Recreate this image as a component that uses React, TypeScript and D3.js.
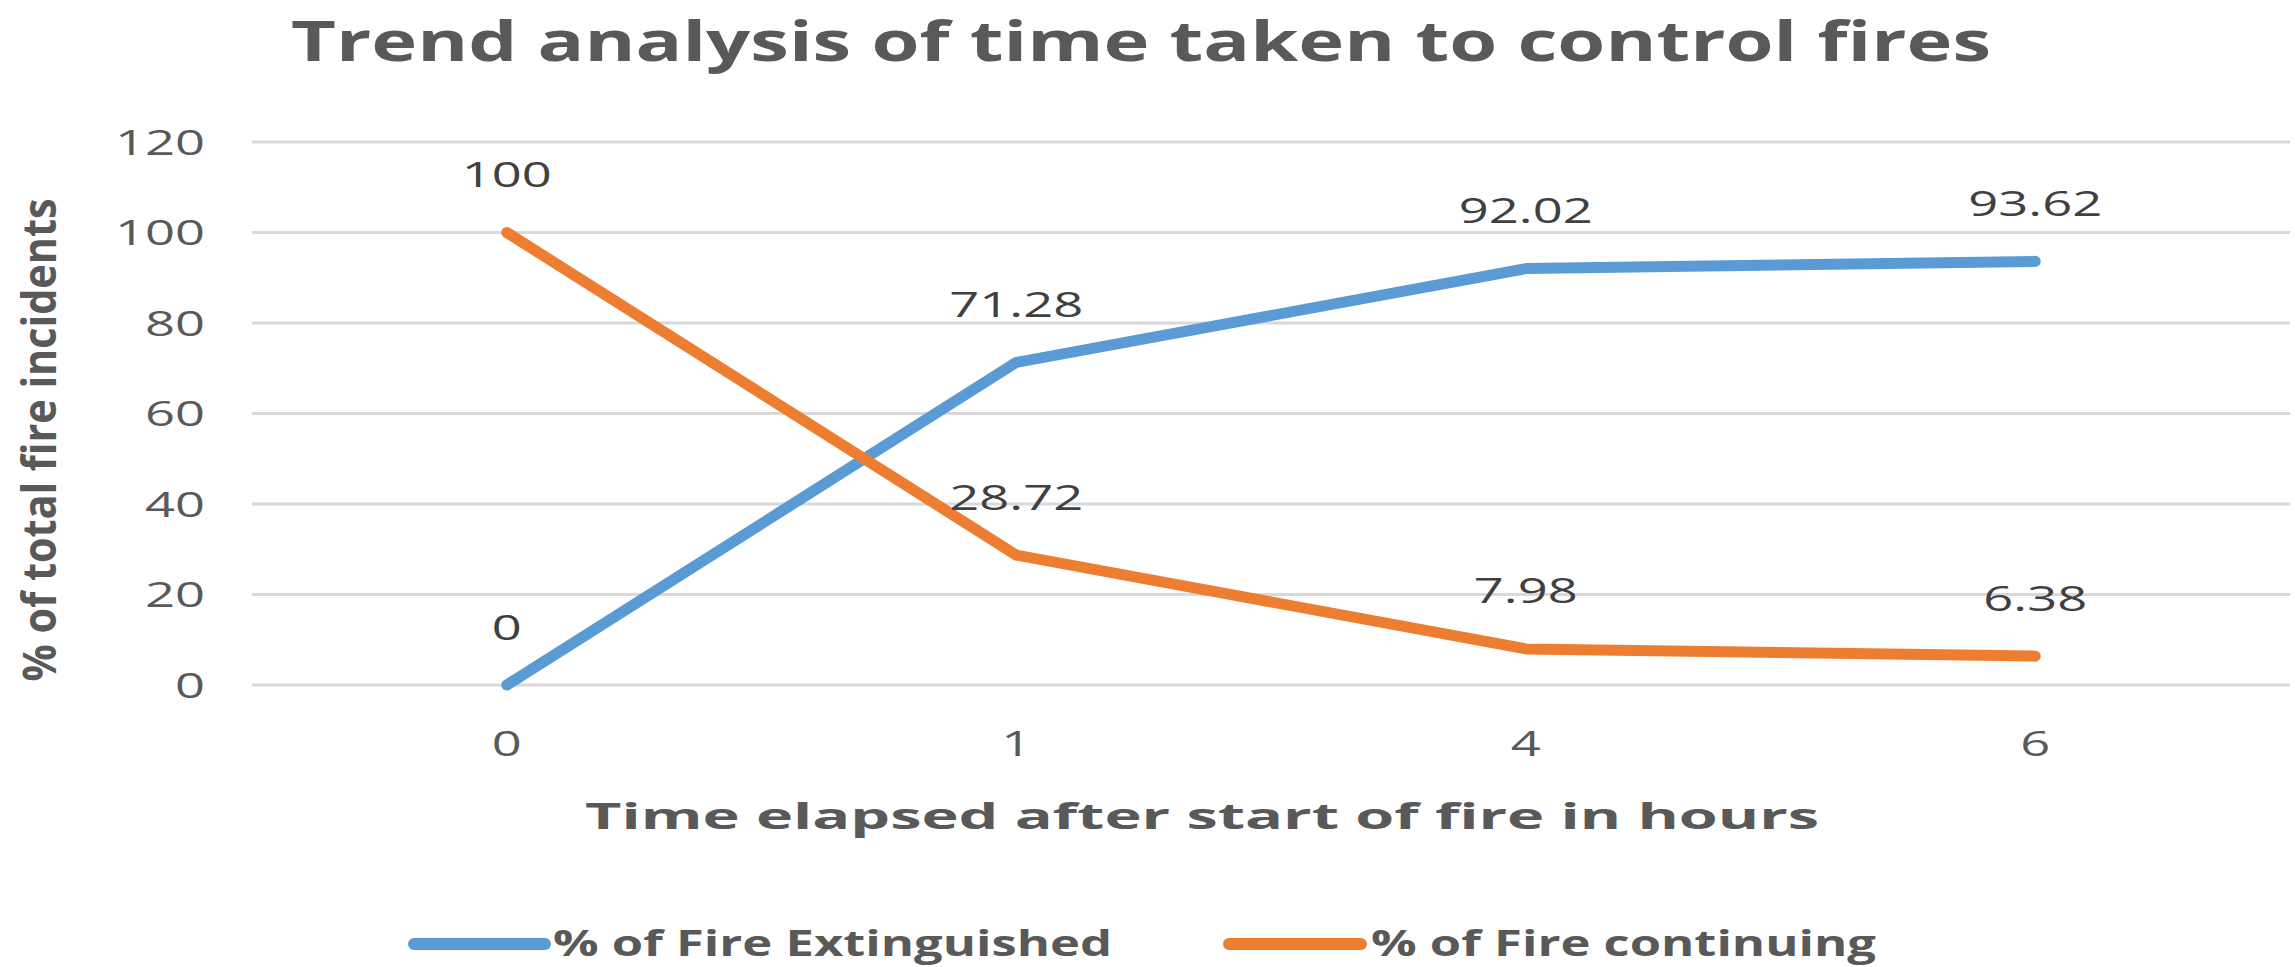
import * as d3 from "d3";
import { useEffect, useRef } from "react";

const hours = ["0", "1", "4", "6"];
const extinguished = [0, 71.28, 92.02, 93.62];
const continuing = [100, 28.72, 7.98, 6.38];
const yTicks = [0, 20, 40, 60, 80, 100, 120];
const seriesNames = ["% of Fire Extinguished", "% of Fire continuing"];

function App() {
    const ref = useRef<SVGSVGElement>(null);

    useEffect(() => {
        const svg = d3.select(ref.current);
        svg.selectAll("*").remove();

        const width = 2295;
        const height = 967;
        const sx = 1.5; // the picture is stretched sideways
        const grey = "#595959";
        const colors = ["#5B9BD5", "#ED7D31"];
        const font = "'Open Sans', sans-serif";

        const x = d3.scalePoint().domain(hours).range([252, 2290]).padding(0.5);
        const y = d3.scaleLinear().domain([0, 120]).range([685, 142]);

        svg.append("rect").attr("width", width).attr("height", height).attr("fill", "#fff");

        // title
        svg.append("text")
            .attr("x", 1141).attr("y", 61)
            .attr("text-anchor", "middle")
            .attr("font-family", font).attr("font-weight", 700)
            .attr("font-size", 55).attr("fill", grey)
            .attr("textLength", 1700).attr("lengthAdjust", "spacingAndGlyphs")
            .text("Trend analysis of time taken to control fires");

        // grid
        svg.append("g").selectAll("line")
            .data(yTicks)
            .enter()
            .append("line")
            .attr("x1", 252).attr("x2", 2290)
            .attr("y1", d => y(d)).attr("y2", d => y(d))
            .attr("stroke", "#D9D9D9").attr("stroke-width", 3);

        // y ticks
        svg.append("g").selectAll("text")
            .data(yTicks)
            .enter()
            .append("text")
            .attr("transform", d => `translate(205,${y(d)}) scale(${sx},1)`)
            .attr("text-anchor", "end").attr("dy", "0.36em")
            .attr("font-family", font).attr("font-size", 35).attr("fill", grey)
            .text(d => d);

        // x ticks
        svg.append("g").selectAll("text")
            .data(hours)
            .enter()
            .append("text")
            .attr("transform", d => `translate(${x(d)},743) scale(${sx},1)`)
            .attr("text-anchor", "middle").attr("dy", "0.36em")
            .attr("font-family", font).attr("font-size", 35).attr("fill", grey)
            .text(d => d);

        // axis titles
        svg.append("text")
            .attr("transform", "translate(56,440) rotate(-90) scale(1,1.5)")
            .attr("text-anchor", "middle")
            .attr("font-family", font).attr("font-weight", 700)
            .attr("font-size", 31).attr("fill", grey)
            .attr("textLength", 483).attr("lengthAdjust", "spacingAndGlyphs")
            .text("% of total fire incidents");

        svg.append("text")
            .attr("x", 1202).attr("y", 829)
            .attr("text-anchor", "middle")
            .attr("font-family", font).attr("font-weight", 700)
            .attr("font-size", 36).attr("fill", grey)
            .attr("textLength", 1234).attr("lengthAdjust", "spacingAndGlyphs")
            .text("Time elapsed after start of fire in hours");

        // lines and labels
        const line = d3.line<number>()
            .x((_, i) => x(hours[i])!)
            .y(d => y(d));

        [extinguished, continuing].forEach((series, k) => {
            svg.append("path")
                .attr("d", line(series))
                .attr("fill", "none")
                .attr("stroke", colors[k])
                .attr("stroke-width", 11)
                .attr("stroke-linecap", "round")
                .attr("stroke-linejoin", "round");

            svg.append("g").selectAll("text")
                .data(series)
                .enter()
                .append("text")
                .attr("transform", (d, i) => `translate(${x(hours[i])},${y(d) - 58}) scale(${sx},1)`)
                .attr("text-anchor", "middle").attr("dy", "0.36em")
                .attr("font-family", font).attr("font-size", 35).attr("fill", "#404040")
                .text(d => d);
        });

        // legend
        const legend = [
            { x1: 414, x2: 545, tx: 553, tw: 559 },
            { x1: 1229, x2: 1361, tx: 1371, tw: 505 }
        ];
        legend.forEach((l, k) => {
            svg.append("line")
                .attr("x1", l.x1).attr("x2", l.x2)
                .attr("y1", 944).attr("y2", 944)
                .attr("stroke", colors[k]).attr("stroke-width", 12)
                .attr("stroke-linecap", "round");
            svg.append("text")
                .attr("x", l.tx).attr("y", 956)
                .attr("font-family", font).attr("font-weight", 700)
                .attr("font-size", 35).attr("fill", grey)
                .attr("textLength", l.tw).attr("lengthAdjust", "spacingAndGlyphs")
                .text(seriesNames[k]);
        });
    }, []);

    return (
        <svg ref={ref} width={2295} height={967}
            style={{ position: "absolute", left: 0, top: 0 }} />
    );
}

export default App;
